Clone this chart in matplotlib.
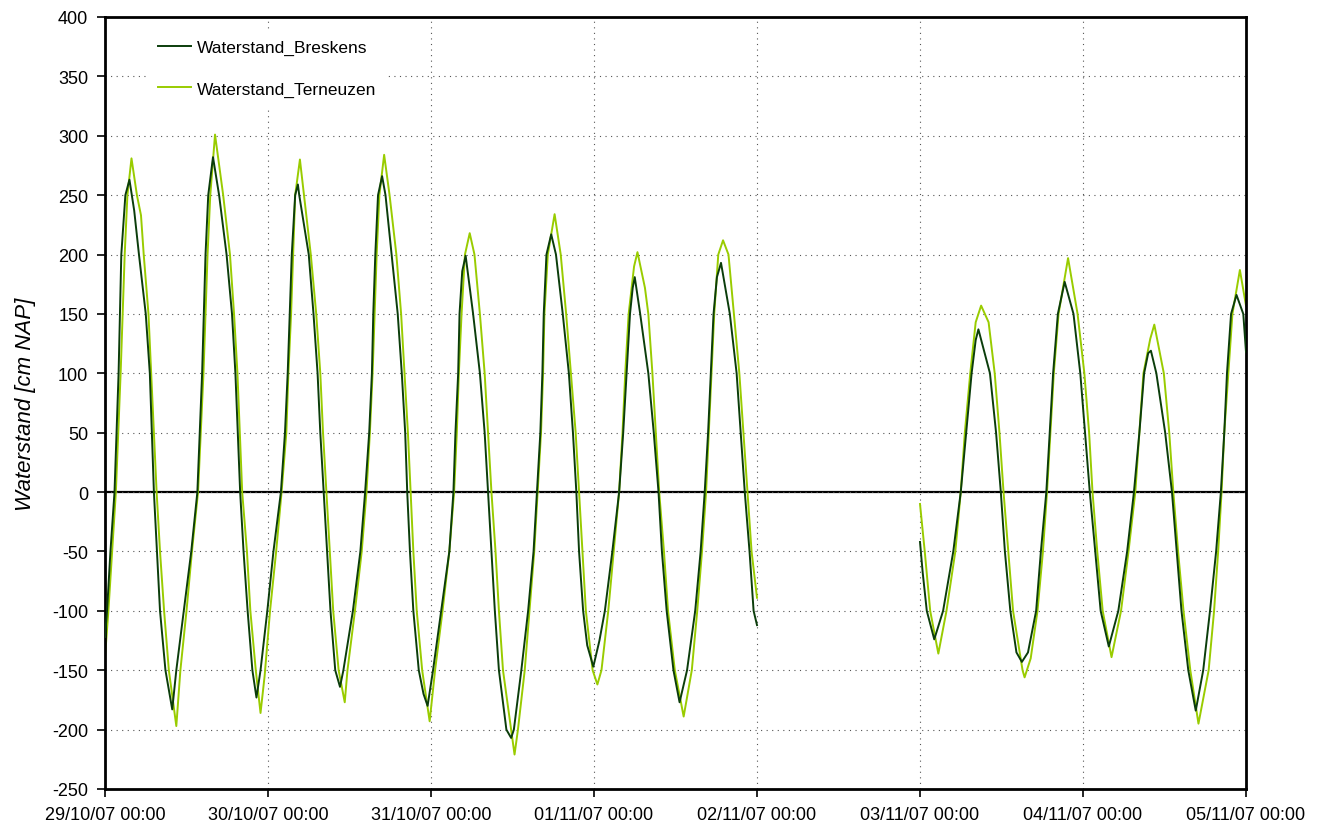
import numpy as np
import pandas as pd
import matplotlib
matplotlib.use('Agg')
import matplotlib.pyplot as plt
import matplotlib.dates as mdates

plt.rcParams['font.family'] = ['Liberation Sans', 'DejaVu Sans']
plt.rcParams['axes.unicode_minus'] = False

# uren na 29/10/07 00:00 en waterstand [cm NAP]
# NaN = ontbrekende meetperiode (02/11 - 03/11)
uren_breskens = [
    0, 0.3, 0.8, 1.4, 2.0, 2.4, 3.0, 3.6, 4.3, 5.0, 6.0, 6.6, 7.2, 8.1, 8.9, 9.9,
    10.5, 11.6, 12.7, 13.6, 14.3, 14.8, 15.2, 15.9, 16.8, 17.9, 18.7, 19.2, 19.9,
    20.4, 21.0, 21.7, 22.3, 22.9, 23.9, 24.8, 25.9, 26.5, 26.9, 27.2, 27.5, 28.0,
    28.4, 28.6, 30.0, 30.7, 31.3, 31.7, 32.2, 32.7, 33.2, 33.9, 34.6, 35.1, 36.5,
    37.6, 38.3, 38.9, 39.3, 39.5, 39.8, 40.2, 40.8, 41.3, 42.2, 43.1, 43.7, 44.2,
    44.5, 44.9, 45.4, 46.2, 46.9, 47.5, 48.3, 49.5, 50.7, 51.3, 51.6, 52.0, 52.2,
    52.6, 53.1, 54.2, 55.2, 55.9, 56.4, 56.9, 57.4, 58.0, 59.1, 59.8, 60.2, 61.3,
    62.3, 63.1, 63.6, 64.1, 64.4, 64.6, 65.0, 65.7, 66.4, 67.4, 68.3, 68.9, 69.4,
    69.8, 70.4, 71.0, 71.9, 72.8, 73.6, 74.7, 75.7, 76.3, 76.8, 77.3, 77.7, 78.0,
    78.8, 80.0, 80.8, 81.5, 82.0, 82.7, 83.7, 84.6, 85.7, 86.9, 87.7, 88.3, 88.8,
    89.2, 89.6, 90.1, 90.7, 92.0, 93.0, 93.6, 94.2, 94.9, 95.5, 96.0,
    108.0,
    120.0, 120.4, 121.0, 122.1, 123.4, 124.9, 126.0, 126.8, 127.6, 128.2, 128.6,
    130.3, 131.2, 131.9, 132.5, 133.3, 134.2, 135.0, 135.9, 137.1, 137.8, 138.6,
    139.1, 139.6, 140.3, 141.3, 142.6, 143.6, 144.3, 145.0, 145.8, 146.6, 147.8,
    149.2, 150.5, 151.5, 152.3, 153.0, 153.6, 154.0, 154.8, 156.1, 157.1, 157.8,
    158.5, 159.5, 160.6, 161.7, 162.7, 163.6, 164.3, 164.8, 165.2, 165.8, 166.6,
    167.6, 168.0,
]
waterstand_breskens = [
    -122, -100, -50, 0, 100, 200, 250, 263, 237, 200, 150, 100, 0, -100, -150, -183,
    -150, -100, -50, 0, 100, 200, 250, 282, 250, 200, 150, 100, 0,
    -50, -100, -150, -173, -150, -100, -50, 0, 50, 100, 150, 200, 250,
    259, 250, 200, 150, 100, 50, 0, -50, -100, -150, -164, -150, -100,
    -50, 0, 50, 100, 150, 200, 250, 266, 250, 200, 150, 100, 50,
    0, -50, -100, -150, -170, -180, -150, -100, -50, 0, 50, 100, 150,
    186, 199, 150, 100, 50, 0, -50, -100, -150, -200, -207, -200, -150,
    -100, -50, 0, 50, 100, 150, 200, 217, 200, 150, 100, 50, 0,
    -50, -100, -129, -147, -125, -100, -50, 0, 50, 100, 150, 172, 181,
    150, 100, 50, 0, -50, -100, -150, -177, -150, -100, -50, 0, 50,
    100, 150, 181, 193, 150, 100, 50, 0, -50, -100, -112,
    np.nan,
    -42, -68, -100, -124, -100, -50, 0, 50, 100, 128, 137,
    100, 50, 0, -50, -100, -135, -143, -135, -100, -50, 0,
    50, 100, 150, 177, 150, 100, 50, 0, -50, -100, -130,
    -100, -50, 0, 50, 100, 117, 119, 100, 50, 0, -50,
    -100, -150, -184, -150, -100, -50, 0, 50, 100, 150, 166,
    150, 118,
]

uren_terneuzen = [
    0, 0.5, 1.0, 1.6, 2.3, 2.9, 3.3, 3.9, 4.7, 5.3, 5.7, 6.4, 6.8, 7.6, 8.1, 8.7,
    9.4, 10.5, 11.1, 12.0, 12.8, 13.7, 14.5, 15.1, 15.5, 16.2, 17.4, 18.4, 19.0,
    19.5, 20.2, 20.9, 21.4, 22.2, 22.9, 23.5, 24.3, 25.2, 26.0, 26.7, 27.0, 27.4,
    27.7, 28.0, 28.7, 29.3, 30.3, 31.1, 31.7, 32.1, 32.6, 33.1, 33.6, 34.4, 35.3,
    35.7, 36.8, 37.8, 38.5, 39.0, 39.4, 39.7, 40.0, 40.4, 41.1, 41.9, 42.9, 43.6,
    44.1, 44.6, 45.0, 45.4, 45.9, 46.7, 47.8, 48.6, 49.7, 50.7, 51.4, 51.8, 52.1,
    52.5, 53.0, 53.7, 54.4, 55.2, 55.9, 56.4, 56.9, 57.5, 58.0, 58.6, 59.8, 60.3,
    60.8, 61.8, 62.5, 63.2, 63.7, 64.2, 64.5, 64.7, 65.2, 66.2, 67.1, 67.9, 68.6,
    69.3, 69.8, 70.3, 70.8, 71.8, 72.5, 73.1, 74.1, 74.9, 75.7, 76.2, 76.6, 77.1,
    77.9, 78.4, 79.5, 80.0, 80.6, 81.1, 81.6, 82.3, 82.9, 83.9, 85.2, 86.4, 87.2,
    87.9, 88.5, 88.9, 89.3, 89.7, 90.3, 91.0, 91.8, 92.6, 93.4, 94.0, 94.6, 95.2,
    96.0,
    108.0,
    120.0, 120.7, 121.5, 122.7, 123.9, 125.2, 126.0, 126.6, 127.4, 128.2, 129.0,
    130.1, 131.0, 131.7, 132.3, 133.0, 133.7, 135.1, 135.4, 136.3, 137.3, 138.1,
    138.7, 139.2, 139.7, 140.4, 141.8, 143.2, 144.2, 144.9, 145.4, 146.1, 146.9,
    148.2, 149.6, 150.7, 151.7, 152.3, 152.9, 153.9, 154.5, 155.9, 156.7, 157.3,
    158.0, 158.8, 159.8, 161.0, 162.5, 163.3, 163.9, 164.4, 164.8, 165.4, 166.0,
    167.1, 168.0,
]
waterstand_terneuzen = [
    -139, -100, -55, 0, 100, 200, 250, 281, 250, 233, 200, 150, 100, 0, -50, -100,
    -150, -197, -150, -100, -50, 0, 100, 200, 250, 301, 250, 200, 150,
    100, 0, -50, -100, -150, -186, -155, -100, -50, 0, 50, 100, 150,
    200, 250, 280, 250, 200, 150, 100, 50, 0, -50, -100, -150, -177,
    -150, -100, -50, 0, 50, 100, 150, 200, 250, 284, 250, 200, 150,
    100, 50, 0, -50, -100, -150, -193, -150, -100, -50, 0, 50, 100,
    150, 200, 218, 200, 150, 100, 50, 0, -50, -100, -150, -200, -221,
    -200, -150, -100, -50, 0, 50, 100, 150, 200, 234, 200, 150, 100,
    50, 0, -50, -100, -150, -162, -150, -100, -50, 0, 50, 100, 150,
    190, 202, 172, 150, 100, 50, 0, -50, -100, -150, -189, -150, -100,
    -50, 0, 50, 100, 150, 200, 212, 200, 150, 100, 50, 0, -50,
    -89,
    np.nan,
    -10, -50, -100, -136, -100, -50, 0, 50, 100, 143, 157,
    143, 100, 50, 0, -50, -100, -150, -156, -140, -100, -50,
    0, 50, 100, 150, 197, 150, 100, 50, 0, -50, -100,
    -139, -100, -50, 0, 50, 100, 129, 141, 100, 50, 0,
    -50, -100, -150, -195, -150, -100, -50, 0, 50, 100, 150,
    187, 157,
]

start = pd.Timestamp('2007-10-29 00:00')
t_bres = start + pd.to_timedelta(uren_breskens, unit='h')
t_tern = start + pd.to_timedelta(uren_terneuzen, unit='h')

fig = plt.figure(figsize=(13.22, 8.28), dpi=100)
ax = fig.add_axes([105 / 1322, 38 / 828, 1141 / 1322, 772 / 828])

ax.axhline(0, color='black', lw=1.6, zorder=1.5)
ax.plot(t_bres, waterstand_breskens, color='#0b3d0b', lw=1.4, label='Waterstand_Breskens', zorder=3)
ax.plot(t_tern, waterstand_terneuzen, color='#99cc00', lw=1.4, label='Waterstand_Terneuzen', zorder=2)

ax.set_ylim(-250, 400)
ax.set_yticks(np.arange(-250, 401, 50))
ax.set_xlim(start, start + pd.Timedelta(days=7))
ax.xaxis.set_major_locator(mdates.DayLocator())
ax.xaxis.set_major_formatter(mdates.DateFormatter('%d/%m/%y %H:%M'))

ax.grid(True, linestyle=(0, (1, 4)), color='#555555', lw=0.8)
ax.tick_params(direction='out', length=6, width=1.2, labelsize=13, pad=6)
for s in ax.spines.values():
    s.set_linewidth(2)

ax.set_ylabel('Waterstand [cm NAP]', fontsize=16, style='italic', labelpad=12)

leg = ax.legend(loc='upper left', bbox_to_anchor=(0.03, 0.995), fontsize=12.5,
                frameon=True, edgecolor='none', facecolor='white', framealpha=1,
                labelspacing=1.5, handlelength=1.9, handletextpad=0.3, borderpad=0.6)
leg.get_frame().set_boxstyle('square', pad=0)

fig.savefig('out.png', dpi=100)
